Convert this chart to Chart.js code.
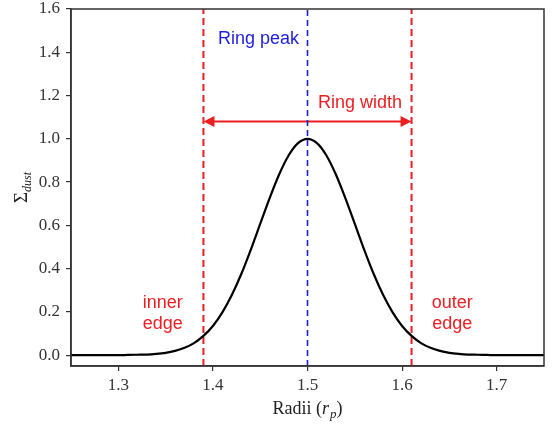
<!DOCTYPE html>
<html>
<head>
<meta charset="utf-8">
<script src="https://cdn.jsdelivr.net/npm/chart.js@4.4.1/dist/chart.umd.min.js"></script>
<style>
  html, body { margin: 0; padding: 0; background: #fff; }
  #wrap { width: 557px; height: 425px; }
</style>
</head>
<body>
<div id="wrap"><canvas id="myChart" width="557" height="425"></canvas></div>
<script>
// radius (in r_p) and the dust surface density
const radii = [
  1.25, 1.26, 1.27, 1.28, 1.29, 1.30, 1.31, 1.32, 1.33, 1.34,
  1.35, 1.36, 1.37, 1.38, 1.39, 1.40, 1.41, 1.42, 1.43, 1.44,
  1.45, 1.46, 1.47, 1.48, 1.49, 1.50, 1.51, 1.52, 1.53, 1.54,
  1.55, 1.56, 1.57, 1.58, 1.59, 1.60, 1.61, 1.62, 1.63, 1.64,
  1.65, 1.66, 1.67, 1.68, 1.69, 1.70, 1.71, 1.72, 1.73, 1.74, 1.75
];
const sigmaDust = [
  0.000, 0.000, 0.000, 0.000, 0.000, 0.000, 0.001, 0.002, 0.003, 0.006,
  0.011, 0.020, 0.034, 0.056, 0.089, 0.135, 0.198, 0.278, 0.375, 0.487,
  0.607, 0.726, 0.835, 0.923, 0.980, 1.000, 0.980, 0.923, 0.835, 0.726,
  0.607, 0.487, 0.375, 0.278, 0.198, 0.135, 0.089, 0.056, 0.034, 0.020,
  0.011, 0.006, 0.003, 0.002, 0.001, 0.000, 0.000, 0.000, 0.000, 0.000, 0.000
];
const innerEdge = 1.39;
const outerEdge = 1.61;
const ringPeak = 1.5;
const widthArrowY = 1.08;

const xTicks = [1.3, 1.4, 1.5, 1.6, 1.7];
const yTicks = [0.0, 0.2, 0.4, 0.6, 0.8, 1.0, 1.2, 1.4, 1.6];

const RED = 'rgb(235, 30, 35)';
const BLUE = 'rgb(30, 30, 215)';
const AXIS = '#333';
const SERIF = '"Liberation Serif", "DejaVu Serif", serif';
const SANS = '"Liberation Sans", Arial, sans-serif';

const curve = radii.map((r, i) => ({ x: r, y: sigmaDust[i] }));
function vline(x) { return [{ x: x, y: -0.05 }, { x: x, y: 1.6 }]; }

// text, arrow heads, frame and the axis titles with sub/italic parts
const extras = {
  id: 'extras',
  afterDatasetsDraw(chart) {
    const ctx = chart.ctx;
    const xs = chart.scales.x, ys = chart.scales.y;
    const a = chart.chartArea;
    ctx.save();

    // arrow heads
    const ay = ys.getPixelForValue(widthArrowY);
    ctx.fillStyle = RED;
    [[innerEdge, 1], [outerEdge, -1]].forEach(([v, dir]) => {
      const px = xs.getPixelForValue(v);
      ctx.beginPath();
      ctx.moveTo(px, ay);
      ctx.lineTo(px + dir * 11, ay - 5.5);
      ctx.lineTo(px + dir * 11, ay + 5.5);
      ctx.closePath();
      ctx.fill();
    });

    // labels
    ctx.font = '18px ' + SANS;
    ctx.textBaseline = 'middle';
    ctx.fillStyle = BLUE;
    ctx.textAlign = 'right';
    ctx.fillText('Ring peak', xs.getPixelForValue(1.491), ys.getPixelForValue(1.46));
    ctx.fillStyle = RED;
    ctx.textAlign = 'left';
    ctx.fillText('Ring width', xs.getPixelForValue(1.511), ys.getPixelForValue(1.167));
    ctx.textAlign = 'center';
    ctx.fillText('inner', xs.getPixelForValue(1.347), ys.getPixelForValue(0.24));
    ctx.fillText('edge', xs.getPixelForValue(1.347), ys.getPixelForValue(0.145));
    ctx.fillText('outer', xs.getPixelForValue(1.653), ys.getPixelForValue(0.24));
    ctx.fillText('edge', xs.getPixelForValue(1.653), ys.getPixelForValue(0.145));

    // frame
    ctx.strokeStyle = AXIS;
    ctx.lineWidth = 1.5;
    ctx.strokeRect(a.left, a.top, a.right - a.left, a.bottom - a.top);

    // x title: Radii (r_p)
    ctx.fillStyle = '#222';
    ctx.textAlign = 'left';
    ctx.textBaseline = 'alphabetic';
    const cx = (a.left + a.right) / 2;
    const ty = 414;
    const parts = [
      ['Radii (', '18px ' + SERIF, 0],
      ['r', 'italic 18px ' + SERIF, 0],
      ['p', 'italic 13px ' + SERIF, 4],
      [')', '18px ' + SERIF, 0]
    ];
    let total = 0;
    parts.forEach(p => { ctx.font = p[1]; total += ctx.measureText(p[0]).width + (p[0] === 'r' ? 1 : 0); });
    let x = cx - total / 2;
    parts.forEach(p => {
      ctx.font = p[1];
      ctx.fillText(p[0], x, ty + p[2]);
      x += ctx.measureText(p[0]).width + (p[0] === 'r' ? 1 : 0);
    });

    // y title: Σ_dust (rotated)
    ctx.translate(27, (a.top + a.bottom) / 2);
    ctx.rotate(-Math.PI / 2);
    ctx.font = '19px ' + SERIF;
    const wS = ctx.measureText('Σ').width;
    ctx.font = 'italic 12px ' + SERIF;
    const wD = ctx.measureText('dust').width;
    const sx = -(wS + wD) / 2;
    ctx.font = '19px ' + SERIF;
    ctx.fillText('Σ', sx, 0);
    ctx.font = 'italic 12px ' + SERIF;
    ctx.fillText('dust', sx + wS, 4);
    ctx.restore();
  }
};

const config = {
  type: 'line',
  data: {
    datasets: [
      { data: curve, borderColor: '#000', borderWidth: 2.2, pointRadius: 0,
        cubicInterpolationMode: 'monotone' },
      { data: vline(innerEdge), borderColor: RED, borderWidth: 2, borderDash: [7, 4], pointRadius: 0 },
      { data: vline(outerEdge), borderColor: RED, borderWidth: 2, borderDash: [7, 4], pointRadius: 0 },
      { data: vline(ringPeak), borderColor: BLUE, borderWidth: 1.6, borderDash: [6, 4], pointRadius: 0 },
      { data: [{ x: innerEdge + 0.005, y: widthArrowY }, { x: outerEdge - 0.005, y: widthArrowY }],
        borderColor: RED, borderWidth: 2, pointRadius: 0 }
    ]
  },
  options: {
    responsive: false,
    animation: false,
    devicePixelRatio: 1,
    layout: { padding: { top: 9, right: 13, left: 0, bottom: 0 } },
    plugins: { legend: { display: false }, tooltip: { enabled: false } },
    scales: {
      x: {
        type: 'linear',
        min: 1.25,
        max: 1.75,
        afterBuildTicks: s => { s.ticks = xTicks.map(v => ({ value: v })); },
        afterFit: s => { s.height = 59; s.paddingLeft = 0; s.paddingRight = 0; },
        border: { display: true, color: AXIS, width: 1.5 },
        grid: { drawOnChartArea: false, drawTicks: true, tickLength: 5, color: AXIS, lineWidth: 1.2 },
        ticks: { color: '#333', font: { family: SERIF, size: 17 }, padding: 4,
          callback: v => v.toFixed(1) }
      },
      y: {
        min: -0.05,
        max: 1.6,
        afterBuildTicks: s => { s.ticks = yTicks.map(v => ({ value: v })); },
        afterFit: s => { s.width = 71; s.paddingTop = 0; s.paddingBottom = 0; },
        border: { display: true, color: AXIS, width: 1.5 },
        grid: { drawOnChartArea: false, drawTicks: true, tickLength: 5, color: AXIS, lineWidth: 1.2 },
        ticks: { color: '#333', font: { family: SERIF, size: 17 }, padding: 6,
          callback: v => v.toFixed(1) }
      }
    }
  },
  plugins: [extras]
};

const myChart = new Chart(document.getElementById('myChart'), config);
</script>
</body>
</html>
